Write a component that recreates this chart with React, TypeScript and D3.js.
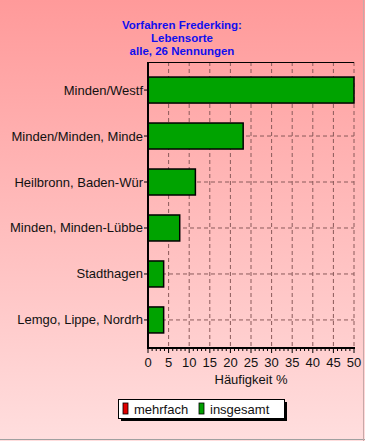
import React from 'react';
import * as d3 from 'd3';

const places = [
  'Minden/Westf',
  'Minden/Minden, Minde',
  'Heilbronn, Baden-Wür',
  'Minden, Minden-Lübbe',
  'Stadthagen',
  'Lemgo, Lippe, Nordrh',
];
const insgesamt = [50, 23.1, 11.5, 7.7, 3.8, 3.8];
const titleLines = ['Vorfahren Frederking:', 'Lebensorte', 'alle, 26 Nennungen'];
const legendItems = [
  { name: 'mehrfach', color: '#e00000' },
  { name: 'insgesamt', color: '#00a000' },
];

const W = 365;
const H = 441;
const left = 148;
const right = 354;
const top = 62;
const bottom = 348;

export default function App() {
  const x = d3.scaleLinear().domain([0, 50]).range([left, right]);
  const y = d3.scalePoint<string>().domain(places).range([top, bottom]).padding(0.61);
  const barH = 26;
  const majors = d3.range(0, 51, 5);
  const minors = d3.range(0, 51, 1);
  const font = 'Liberation Sans, Arial, sans-serif';

  return (
    <svg width={W} height={H} style={{ position: 'absolute', left: 0, top: 0 }}>
      <defs>
        <linearGradient id="bg" x1="0" y1="0" x2="0" y2="1">
          <stop offset="0" stopColor="#ff9a9a" />
          <stop offset="1" stopColor="#ffdede" />
        </linearGradient>
      </defs>
      <rect x={0} y={0} width={W} height={H} fill="url(#bg)" />
      <line x1={0} x2={W} y1={H - 1.5} y2={H - 1.5} stroke="#a0a0a0" />
      <line x1={W - 1.5} x2={W - 1.5} y1={0} y2={H} stroke="#c8a8a8" />

      {titleLines.map((t, i) => (
        <text key={t} x={182} y={29 + i * 13} textAnchor="middle" fill="#1010ee"
          fontFamily={font} fontWeight="bold" fontSize={11.5}>
          {t}
        </text>
      ))}

      {/* grid */}
      {majors.slice(1).map((v) => (
        <line key={v} x1={x(v)} x2={x(v)} y1={top} y2={bottom} stroke="#8a5a5a" strokeWidth={1} strokeDasharray="4,3" />
      ))}
      {places.map((p) => (
        <line key={p} x1={left} x2={right} y1={y(p)!} y2={y(p)!} stroke="#8a5a5a" strokeWidth={1} strokeDasharray="4,3" />
      ))}
      <line x1={left} x2={right} y1={top + 0.5} y2={top + 0.5} stroke="#000" strokeWidth={1} />

      {/* bars */}
      {places.map((p, i) => (
        <rect key={p} x={x(0)} y={y(p)! - barH / 2} width={x(insgesamt[i]) - x(0)} height={barH}
          fill="#00a300" stroke="#000" strokeWidth={1.5} />
      ))}

      {/* axes */}
      <line x1={left} x2={left} y1={top} y2={bottom + 1} stroke="#000" strokeWidth={2} />
      <line x1={left - 1} x2={right + 1} y1={bottom} y2={bottom} stroke="#000" strokeWidth={2} />
      {places.map((p) => (
        <g key={p}>
          <line x1={left - 4} x2={left} y1={y(p)!} y2={y(p)!} stroke="#000" />
          <text x={left - 5} y={y(p)! + 4.5} textAnchor="end" fontFamily={font} fontSize={13} fill="#111">
            {p}
          </text>
        </g>
      ))}
      {minors.map((v) => (
        <line key={v} x1={x(v)} x2={x(v)} y1={bottom} y2={bottom + (v % 5 === 0 ? 5 : 3)} stroke="#000" />
      ))}
      {majors.map((v) => (
        <text key={v} x={x(v)} y={367} textAnchor="middle" fontFamily={font} fontSize={13} fill="#111">
          {v}
        </text>
      ))}
      <text x={(left + right) / 2} y={384} textAnchor="middle" fontFamily={font} fontSize={13} fill="#111">
        Häufigkeit %
      </text>

      {/* legend */}
      <rect x={121} y={402} width={166} height={19} fill="#000" />
      <rect x={118.5} y={399.5} width={166} height={19} fill="#fff" stroke="#000" />
      {legendItems.map((d, i) => {
        const lx = i === 0 ? 123 : 199;
        return (
          <g key={d.name}>
            <rect x={lx} y={403} width={5} height={11} fill={d.color} stroke="#000" strokeWidth={0.8} />
            <text x={lx + 11} y={413.5} fontFamily={font} fontSize={13} fill="#111">{d.name}</text>
          </g>
        );
      })}
    </svg>
  );
}
